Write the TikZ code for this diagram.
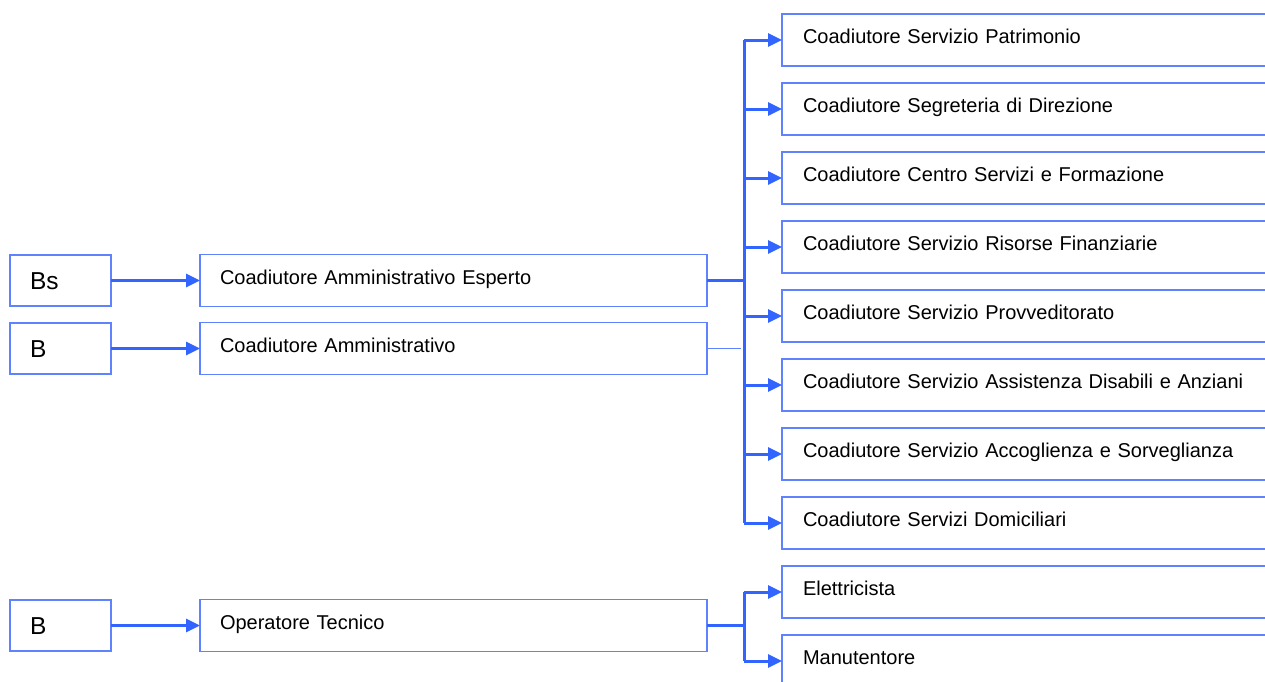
\documentclass[tikz,border=0pt]{standalone}
\usepackage{fontspec}
\setmainfont{Liberation Sans}
\usepackage{xcolor}
\usetikzlibrary{arrows.meta,positioning}

\definecolor{boxblue}{RGB}{95,130,255}
\definecolor{lineblue}{RGB}{50,100,255}

\begin{document}
\begin{tikzpicture}[
  x=1pt, y=-1pt,
  node distance=17pt and 89pt,
  levelbox/.style={rectangle, draw=boxblue, line width=1.2pt, outer sep=0pt, inner xsep=20pt, inner ysep=0pt, text width=61pt, text height=34pt, text depth=17pt, align=left, font=\fontsize{24.5}{28}\selectfont},
  rolebox/.style={rectangle, draw=boxblue, line width=1.2pt, outer sep=0pt, inner xsep=20pt, inner ysep=0pt, text width=467pt, text height=30pt, text depth=22pt, align=left, font=\fontsize{20}{24}\selectfont},
  unitbox/.style={rectangle, draw=boxblue, line width=1.2pt, outer sep=0pt, inner xsep=21pt, inner ysep=0pt, text width=470pt, text height=29pt, text depth=23pt, align=left, font=\fontsize{20}{24}\selectfont},
  link/.style={draw=lineblue, line width=3pt},
  arrow/.style={link, -{Triangle[length=14pt, width=13pt]}},
  faint/.style={draw=boxblue, line width=0.8pt}
]
\clip (0,0) rectangle (1265,681);

\node[levelbox, anchor=north west] (bs) at (10,255) {Bs};
\node[levelbox, anchor=north west] (b) at (10,323) {B};
\node[levelbox, anchor=north west] (bt) at (10,600) {B};
\node[rolebox, right=of bs] (esp) {Coadiutore Amministrativo Esperto};
\node[rolebox, right=of b] (amm) {Coadiutore Amministrativo};
\node[rolebox, right=of bt] (tec) {Operatore Tecnico};

\node[unitbox, anchor=north west] (patr) at (782,14) {Coadiutore Servizio Patrimonio};
\node[unitbox, below=of patr] (segr) {Coadiutore Segreteria di Direzione};
\node[unitbox, below=of segr] (form) {Coadiutore Centro Servizi e Formazione};
\node[unitbox, below=of form] (fin) {Coadiutore Servizio Risorse Finanziarie};
\node[unitbox, below=of fin] (provv) {Coadiutore Servizio Provveditorato};
\node[unitbox, below=of provv] (assi) {Coadiutore Servizio Assistenza Disabili e Anziani};
\node[unitbox, below=of assi] (acco) {Coadiutore Servizio Accoglienza e Sorveglianza};
\node[unitbox, below=of acco] (domi) {Coadiutore Servizi Domiciliari};
\node[unitbox, below=of domi] (elet) {Elettricista};
\node[unitbox, below=of elet] (manu) {Manutentore};

\draw[arrow] (bs) -- (esp);
\draw[arrow] (b) -- (amm);
\draw[arrow] (bt) -- (tec);

% amministrativo esperto -> servizi
\draw[link] (esp.east) -- ++(37,0) coordinate (busA);
\draw[link] (busA |- patr.west) -- (busA |- domi.west);
\draw[arrow] (busA |- patr.west) -- (patr.west);
\draw[arrow] (busA |- segr.west) -- (segr.west);
\draw[arrow] (busA |- form.west) -- (form.west);
\draw[arrow] (busA |- fin.west) -- (fin.west);
\draw[arrow] (busA |- provv.west) -- (provv.west);
\draw[arrow] (busA |- assi.west) -- (assi.west);
\draw[arrow] (busA |- acco.west) -- (acco.west);
\draw[arrow] (busA |- domi.west) -- (domi.west);

\draw[faint] (amm.east) -- ++(34,0) coordinate (ammEnd);

% operatore tecnico
\draw[link] (tec.east) -- ++(37,0) coordinate (busB);
\draw[link] (busB |- elet.west) -- (busB |- manu.west);
\draw[arrow] (busB |- elet.west) -- (elet.west);
\draw[arrow] (busB |- manu.west) -- (manu.west);
\end{tikzpicture}
\end{document}
